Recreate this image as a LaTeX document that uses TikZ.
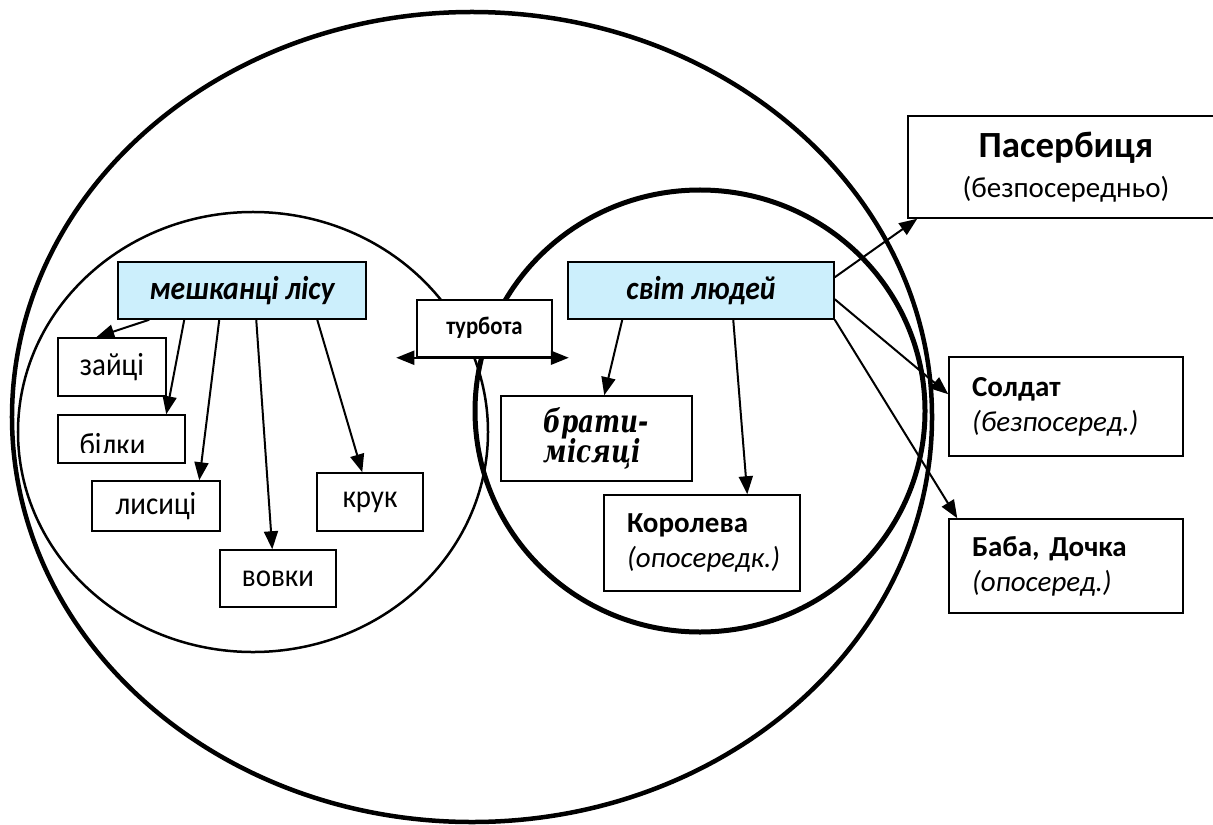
\documentclass[tikz,border=0pt]{standalone}
\usepackage{fontspec}
\setmainfont{Carlito}
\newfontfamily\tallfont{Carlito}[FakeStretch=0.9]
\newfontfamily\bratyfont{DejaVu Serif}[FakeStretch=0.78]
\usetikzlibrary{arrows.meta,calc}
\tikzset{
    x=0.2mm, y=-0.2mm, % one unit is one pixel of the sketch, y runs downwards
    node distance=31.9mm, % gap between Soldat and Baba
    }

\begin{document}
\begin{tikzpicture}[
topicnode/.style={rectangle, draw=black, fill=cyan!20, line width=0.3mm, inner sep=0pt, minimum height=11.4mm, font=\tallfont\fontsize{18.8}{22}\selectfont\bfseries\itshape},
leafnode/.style={rectangle, draw=black, fill=white, line width=0.3mm, inner sep=0pt, font=\tallfont\fontsize{18.3}{22}\selectfont},
sidenode/.style={leafnode, align=left, inner xsep=4.6mm, text width=30mm, font=\fontsize{16.5}{20}\selectfont},
link/.style={line width=0.4mm, -{Triangle[length=3.6mm,width=2.8mm]}},
]
\useasboundingbox (0,0) rectangle (1213,824);

% the three rings
\draw[line width=0.9mm] (472,417) ellipse [x radius=92mm, y radius=81mm];
\draw[line width=0.5mm] (253,432) ellipse [x radius=47mm, y radius=44mm];
\draw[line width=1mm] (700,411) ellipse [x radius=45mm, y radius=44.2mm];

\node[topicnode, minimum width=49.6mm] (les) at (242,290.5) {мешканці лісу};
\node[topicnode, minimum width=53.2mm] (svit) at (701,290.5) {світ людей};
\node[leafnode, minimum width=27mm, minimum height=11.4mm, font=\tallfont\fontsize{14.4}{17}\selectfont\bfseries] (turbota) at (484.5,328.5) {\raisebox{1mm}{турбота}};

% forest
\node[leafnode, minimum width=21.6mm, minimum height=11.6mm] (zaitsi) at (112,367) {зайці};
\node[leafnode, minimum width=25.4mm, minimum height=9.6mm] (bilky) at (121.5,439) {};
\node[leafnode, minimum width=25.6mm, minimum height=10mm] (lysytsi) at (156,506) {\raisebox{-1.2mm}{лисиці}};
\node[leafnode, minimum width=23.2mm, minimum height=11.4mm] (vovky) at (278,578.5) {вовки};
\node[leafnode, minimum width=21.2mm, minimum height=11.6mm] (kruk) at (370,502) {крук};
\begin{scope}
\clip (bilky.north west) rectangle ($(bilky.south east)+(0,-11)$);
\node[anchor=base, font=\tallfont\fontsize{18.3}{22}\selectfont] (bilkytext) at ($(bilky.south)+(-9,-8)$) {білки};
\end{scope}

% people
\node[leafnode, minimum width=38.2mm, minimum height=17mm, align=left, font=\bratyfont\fontsize{18}{17.6}\selectfont\bfseries\itshape] (braty) at (596.5,438.5) {брати-\\місяці};
\node[sidenode, minimum width=39.2mm, minimum height=19.2mm] (koroleva) at (702,543) {\textbf{Королева}\\\textit{(опосередк.)}};
\node[leafnode, minimum width=63.2mm, minimum height=20.4mm, align=center, font=\fontsize{16.5}{20}\selectfont] (paserb) at (1066,167) {{\fontsize{21}{25}\selectfont\bfseries Пасербиця}\\[1mm](безпосередньо)};
\node[sidenode, text width=37.6mm, minimum width=46.8mm, minimum height=19.8mm] (soldat) at (1066,406.5) {\textbf{Солдат}\\\textit{(безпосеред.)}};
\node[sidenode, text width=37.6mm, minimum width=46.8mm, minimum height=18.8mm] (baba) [below of=soldat] {\textbf{Баба, Дочка}\\\textit{(опосеред.)}};

% arrows
\draw[link] ($(les.south west)+(32,0)$) -- ($(zaitsi.north west)+(39,0)$);
\draw[link] ($(les.south west)+(67,0)$) -- ($(bilky.north west)+(109,0)$);
\draw[link] ($(les.south west)+(102,0)$) -- ($(lysytsi.north west)+(108,0)$);
\draw[link] ($(les.south west)+(139,0)$) -- ($(vovky.north west)+(53,0)$);
\draw[link] ($(les.south west)+(200,0)$) -- ($(kruk.north west)+(46,0)$);
\draw[link] ($(svit.south west)+(55,0)$) -- ($(braty.north west)+(104,0)$);
\draw[link] ($(svit.south west)+(166,0)$) -- ($(koroleva.north west)+(144,0)$);
\draw[link] ($(svit.north east)+(0,16)$) -- ($(paserb.south west)+(10,0)$);
\draw[link] ($(svit.north east)+(0,38)$) -- ($(soldat.north west)+(0,38)$);
\draw[link] (svit.south east) -- ($(baba.north west)+(9,0)$);
\draw[line width=0.4mm, {Triangle[length=3.6mm,width=2.8mm]}-{Triangle[length=3.6mm,width=2.8mm]}] ($(turbota.south west)+(-20,0)$) -- ($(turbota.south east)+(16,0)$);

\end{tikzpicture}
\end{document}
